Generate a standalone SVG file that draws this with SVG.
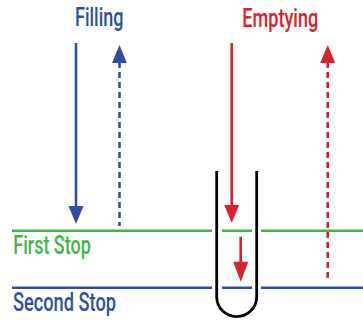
<svg xmlns="http://www.w3.org/2000/svg" width="363" height="320" viewBox="0 0 363 320">
<defs>
<style>
.t{font-family:Roboto,"Liberation Sans",sans-serif;font-weight:500;font-size:26px}
.blue{fill:#2f4fa2}
.red{fill:#d8222d}
.green{fill:#43b649}
.sb{stroke:#2f4fa2;stroke-width:2.6;fill:none}
.sr{stroke:#d8222d;stroke-width:2.6;fill:none}
.dash{stroke-dasharray:6 4}
</style>
</defs>
<rect width="363" height="320" fill="#fff"/>
<g id="levels">
<path d="M12 230.7H212M222 230.7H252M261 230.7H363" stroke="#43b649" stroke-width="2.4" fill="none"/>
<path d="M12 287.7H212M222 287.7H252M261 287.7H363" stroke="#2f4fa2" stroke-width="2.4" fill="none"/>
</g>
<g id="tube">
<path d="M216.7 171V296.7A20 20 0 0 0 256.7 296.7V171" stroke="#000" stroke-width="2.8" fill="none"/>
</g>
<g id="labels">
<text class="t blue" x="75" y="26" textLength="48.5" lengthAdjust="spacingAndGlyphs">Filling</text>
<text class="t red" x="242.3" y="26.7" textLength="76" lengthAdjust="spacingAndGlyphs">Emptying</text>
<text class="t green" x="13.3" y="254.3" textLength="77.5" lengthAdjust="spacingAndGlyphs">First Stop</text>
<text class="t blue" x="13" y="311" textLength="103" lengthAdjust="spacingAndGlyphs">Second Stop</text>
</g>
<g id="connectors">
<path class="sb" d="M76 43V208"/>
<path class="blue" d="M68.5 206L76 224L83.5 206Z"/>
<path class="sb dash" d="M119.5 62V226"/>
<path class="blue" d="M112 63L119.5 45L127 63Z"/>
<path class="sr" d="M231.7 43V207"/>
<path class="red" d="M224.2 205L231.7 223L239.2 205Z"/>
<path class="sr" d="M240.7 236.7V264"/>
<path class="red" d="M233.2 261.7L240.7 281.7L248.2 261.7Z"/>
<path class="sr dash" d="M327.7 62V282"/>
<path class="red" d="M320.2 63L327.7 45L335.2 63Z"/>
</g>
</svg>
